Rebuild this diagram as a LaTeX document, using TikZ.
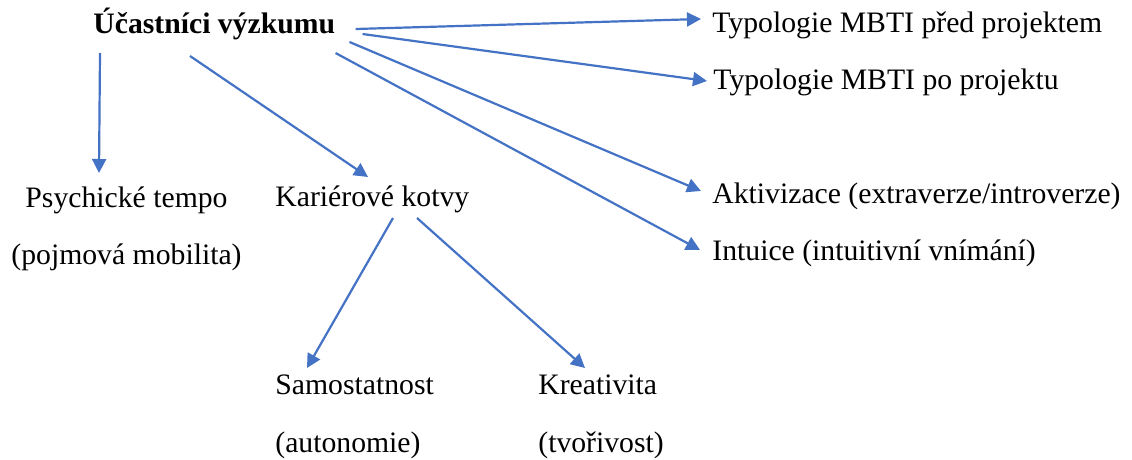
\documentclass[tikz,border=0pt]{standalone}
\usepackage{fontspec}
\setmainfont{Liberation Serif}
\usetikzlibrary{arrows.meta,calc}
\definecolor{arrblue}{HTML}{4472C4}

\begin{document}
\begin{tikzpicture}[x=0.5pt, y=-0.5pt,
    lbl/.style={inner sep=0pt, font=\fontsize{14.85pt}{28.75pt}\selectfont},
    arr/.style={color=arrblue, line width=1.1pt, -{Triangle[length=7pt,width=7pt]}}]
      \useasboundingbox (0,0) rectangle (1132,460);
      \node[lbl, anchor=base west] (ucast) at (93,34) {\bfseries Účastníci výzkumu};
      \node[lbl, anchor=base west] (typ1) at (712,33) {Typologie MBTI před projektem};
      \node[lbl, anchor=base west] (typ2) at (713,90) {Typologie MBTI po projektu};
      \node[lbl, anchor=base west] (akt) at (712,204) {Aktivizace (extraverze/introverze)};
      \node[lbl, anchor=base west] (int) at (712,261) {Intuice (intuitivní vnímání)};
      \node[lbl, anchor=base, align=center] (psych) at (126.5,265) {Psychické tempo\\(pojmová mobilita)};
      \node[lbl, anchor=base west] (kar) at (275,207) {Kariérové kotvy};
      \node[lbl, anchor=base west, align=left] (sam) at (275,452) {Samostatnost\\(autonomie)};
      \node[lbl, anchor=base west, align=left] (kre) at (538,452) {Kreativita\\(tvořivost)};
      \draw[arr] ($(ucast.base west)+(7,19)$) -- ($(psych.base)+(-27.5,-92)$);
      \draw[arr] ($(ucast.base west)+(97,22)$) -- ($(kar.base west)+(93,-30)$);
      \draw[arr] ($(ucast.base east)+(20,-5)$) -- ($(typ1.base west)+(-11,-14)$);
      \draw[arr] ($(ucast.base east)+(27,0)$) -- ($(typ2.base west)+(-6,-9)$);
      \draw[arr] ($(ucast.base east)+(14,8)$) -- ($(akt.base west)+(-11,-13)$);
      \draw[arr] ($(ucast.base east)+(0,19)$) -- ($(int.base west)+(-12,-11)$);
      \draw[arr] ($(kar.base west)+(118,11)$) -- ($(sam.base west)+(32,-84)$);
      \draw[arr] ($(kar.base west)+(142,11)$) -- ($(kre.base west)+(47,-84)$);
\end{tikzpicture}
\end{document}
